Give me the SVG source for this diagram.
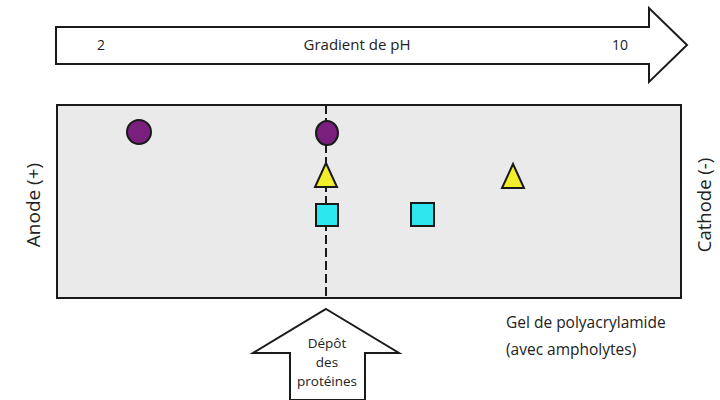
<svg xmlns="http://www.w3.org/2000/svg" width="720" height="400" viewBox="0 0 720 400">
<style>
text{font-family:"Open Sans","Liberation Sans",sans-serif;fill:#222}
.ol{stroke:#1a1a1a;stroke-width:2;stroke-linejoin:miter}
.purple{fill:#7a1f7e}
.yellow{fill:#f2ee2a}
.cyan{fill:#2ee6ee}
.dep{font-size:13.5px;text-anchor:middle}
</style>
<rect width="720" height="400" fill="#fff"/>
<g id="ph-arrow">
<polygon class="ol" fill="#fff" points="56,27 649,27 649,8 687,45 649,82 649,64 56,64"/>
<text x="101" y="50" font-size="14" text-anchor="middle">2</text>
<text x="357" y="50" font-size="15" text-anchor="middle">Gradient de pH</text>
<text x="620" y="50" font-size="14" text-anchor="middle">10</text>
</g>
<g id="gel">
<rect class="ol" x="57" y="105" width="624" height="193" fill="#eaeaea"/>
</g>
<g id="connectors">
<line x1="326" y1="105" x2="326" y2="300" stroke="#1a1a1a" stroke-width="2" stroke-dasharray="9,4"/>
</g>
<g id="circle1"><circle class="ol purple" cx="139" cy="132" r="12"/></g>
<g id="circle2"><ellipse class="ol purple" cx="327" cy="133" rx="11" ry="12"/></g>
<g id="triangle1"><polygon class="ol yellow" points="326,163 337,187 315,187"/></g>
<g id="square1"><rect class="ol cyan" x="316" y="204" width="22" height="22"/></g>
<g id="square2"><rect class="ol cyan" x="411" y="203" width="23" height="23"/></g>
<g id="triangle2"><polygon class="ol yellow" points="513,164 524,188 502,188"/></g>
<g id="anode"><text transform="translate(40,205) rotate(-90)" font-size="19" text-anchor="middle">Anode (+)</text></g>
<g id="cathode"><text transform="translate(711,205) rotate(-90)" font-size="18.5" text-anchor="middle">Cathode (-)</text></g>
<g id="depot-arrow">
<polygon class="ol" fill="#fff" points="326,309 399,353 365,353 365,400 290,400 290,353 253,353"/>
<text x="327" y="348" class="dep">Dépôt</text>
<text x="327" y="367" class="dep">des</text>
<text x="327" y="386" class="dep">protéines</text>
</g>
<g id="gel-label">
<text x="506" y="328" font-size="15.5">Gel de polyacrylamide</text>
<text x="506" y="355" font-size="15.5">(avec ampholytes)</text>
</g>
</svg>
